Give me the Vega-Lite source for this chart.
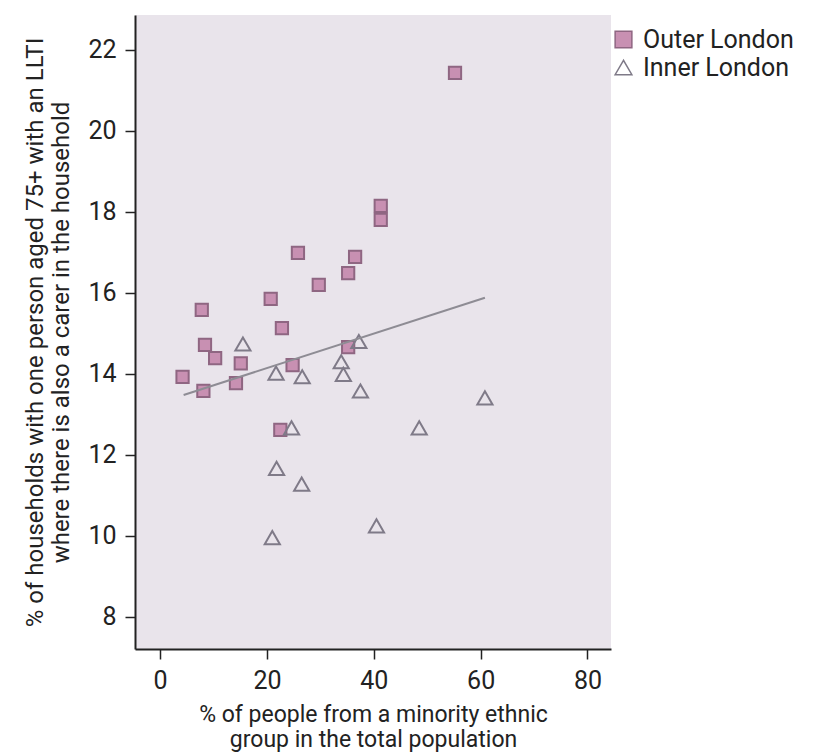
{
  "$schema": "https://vega.github.io/schema/vega-lite/v6.json",
  "width": 476,
  "height": 634,
  "autosize": {"type": "none"},
  "padding": {"left": 135, "top": 15, "right": 213, "bottom": 107},
  "background": "white",
  "config": {
    "font": "Roboto, sans-serif",
    "view": {"fill": "#e9e4eb", "stroke": null},
    "axis": {
      "grid": false,
      "domainColor": "#222222",
      "domainWidth": 2,
      "tickColor": "#222222",
      "tickWidth": 1.5,
      "tickSize": 10,
      "labelFontSize": 25,
      "labelColor": "#222222",
      "titleFontSize": 24,
      "titleFontWeight": "normal",
      "titleColor": "#222222",
      "labelPadding": 9
    }
  },
  "data": {
    "values": [
      {"x": 4.2, "y": 13.93, "group": "Outer London"},
      {"x": 7.8, "y": 15.58, "group": "Outer London"},
      {"x": 8.4, "y": 14.72, "group": "Outer London"},
      {"x": 10.3, "y": 14.39, "group": "Outer London"},
      {"x": 8.1, "y": 13.58, "group": "Outer London"},
      {"x": 15.1, "y": 14.26, "group": "Outer London"},
      {"x": 14.2, "y": 13.77, "group": "Outer London"},
      {"x": 20.7, "y": 15.85, "group": "Outer London"},
      {"x": 22.8, "y": 15.13, "group": "Outer London"},
      {"x": 24.8, "y": 14.22, "group": "Outer London"},
      {"x": 22.5, "y": 12.62, "group": "Outer London"},
      {"x": 25.8, "y": 16.99, "group": "Outer London"},
      {"x": 29.7, "y": 16.2, "group": "Outer London"},
      {"x": 35.2, "y": 16.49, "group": "Outer London"},
      {"x": 36.5, "y": 16.89, "group": "Outer London"},
      {"x": 35.2, "y": 14.66, "group": "Outer London"},
      {"x": 41.3, "y": 18.15, "group": "Outer London"},
      {"x": 41.3, "y": 17.8, "group": "Outer London"},
      {"x": 55.2, "y": 21.43, "group": "Outer London"},
      {"x": 15.5, "y": 14.74, "group": "Inner London"},
      {"x": 21.7, "y": 14.02, "group": "Inner London"},
      {"x": 26.6, "y": 13.93, "group": "Inner London"},
      {"x": 33.9, "y": 14.3, "group": "Inner London"},
      {"x": 34.3, "y": 13.99, "group": "Inner London"},
      {"x": 37.2, "y": 14.8, "group": "Inner London"},
      {"x": 37.5, "y": 13.58, "group": "Inner London"},
      {"x": 24.6, "y": 12.67, "group": "Inner London"},
      {"x": 48.5, "y": 12.67, "group": "Inner London"},
      {"x": 60.8, "y": 13.41, "group": "Inner London"},
      {"x": 21.8, "y": 11.67, "group": "Inner London"},
      {"x": 26.5, "y": 11.28, "group": "Inner London"},
      {"x": 40.5, "y": 10.25, "group": "Inner London"},
      {"x": 21.0, "y": 9.96, "group": "Inner London"}
    ]
  },
  "encoding": {
    "x": {
      "field": "x", "type": "quantitative",
      "scale": {"domain": [-4.7, 84.4], "nice": false, "zero": false},
      "axis": {"values": [0, 20, 40, 60, 80], "title": ["% of people from a minority ethnic", "group in the total population"], "titlePadding": 10, "titleFontSize": 23, "titleLineHeight": 25}
    },
    "y": {
      "field": "y", "type": "quantitative",
      "scale": {"domain": [7.21, 22.86], "nice": false, "zero": false},
      "axis": {"values": [8, 10, 12, 14, 16, 18, 20, 22], "title": ["% of households with one person aged 75+ with an LLTI", "where there is also a carer in the household"], "titlePadding": 14}
    }
  },
  "layer": [
    {
      "transform": [{"filter": "datum.group === 'Outer London'"}],
      "mark": {"type": "point", "filled": false, "strokeWidth": 2, "opacity": 1, "size": 150},
      "encoding": {
        "shape": {
          "field": "group", "type": "nominal",
          "scale": {"domain": ["Outer London", "Inner London"], "range": ["square", "triangle-up"]},
          "legend": {
            "title": null, "orient": "none", "legendX": 476, "legendY": 12, "padding": 0,
            "labelFontSize": 25, "labelColor": "#222222", "symbolSize": 280,
            "rowPadding": 2, "labelOffset": 7, "symbolStrokeWidth": 1.5
          }
        },
        "fill": {
          "field": "group", "type": "nominal",
          "scale": {"domain": ["Outer London", "Inner London"], "range": ["#c890b2", "transparent"]},
          "legend": {"title": null}
        },
        "stroke": {
          "field": "group", "type": "nominal",
          "scale": {"domain": ["Outer London", "Inner London"], "range": ["#8f6682", "#7f7a88"]},
          "legend": {"title": null}
        }
      }
    },
    {
      "transform": [{"filter": "datum.group === 'Inner London'"}],
      "mark": {"type": "point", "filled": false, "strokeWidth": 2, "opacity": 1, "size": 230},
      "encoding": {
        "shape": {"field": "group", "type": "nominal"},
        "fill": {"field": "group", "type": "nominal"},
        "stroke": {"field": "group", "type": "nominal"}
      }
    },
    {
      "data": {"values": [{"x": 4.4, "y": 13.48}, {"x": 60.8, "y": 15.88}]},
      "mark": {"type": "line", "color": "#8e8c94", "strokeWidth": 2},
      "encoding": {
        "x": {"field": "x", "type": "quantitative"},
        "y": {"field": "y", "type": "quantitative"}
      }
    }
  ]
}
